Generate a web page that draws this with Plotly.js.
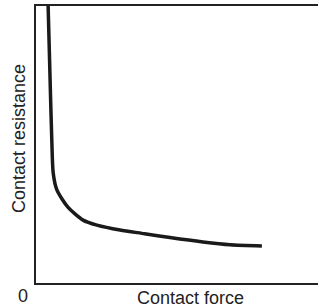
<!DOCTYPE html>
<html>
<head>
<meta charset="utf-8">
<script src="https://cdn.plot.ly/plotly-3.0.1.min.js"></script>
<style>html,body{margin:0;padding:0;background:#fff;}#chart{width:319px;height:308px;}</style>
</head>
<body>
<div id="chart"></div>
<script>
// Contact force (arbitrary units) and contact resistance (arbitrary units)
var contactForce = [0.43, 0.50, 0.56, 0.61, 0.74, 1.13, 1.67, 2.16, 2.98, 3.85, 4.75, 5.92, 6.88, 8.01];
var contactResistance = [10.0, 7.33, 5.16, 3.97, 3.36, 2.74, 2.27, 2.09, 1.91, 1.78, 1.64, 1.48, 1.38, 1.34];
var xTitle = "Contact force";
var yTitle = "Contact resistance";
var originLabel = "0";

var trace = {
  x: contactForce,
  y: contactResistance,
  mode: "lines",
  line: {color: "#1a1a1a", width: 3.5, shape: "spline", smoothing: 0.7},
  hoverinfo: "skip"
};

var fontFam = "Liberation Sans, Arial, sans-serif";
var txtColor = "#222";
var layout = {
  width: 319, height: 308,
  margin: {l: 36, r: 1, t: 6, b: 25},
  paper_bgcolor: "#fff", plot_bgcolor: "#fff",
  showlegend: false,
  xaxis: {
    range: [0, 10], showgrid: false, zeroline: false, showticklabels: false, ticks: "",
    showline: true, linecolor: "#222", linewidth: 2, mirror: true
  },
  yaxis: {
    range: [0, 10], showgrid: false, zeroline: false, showticklabels: false, ticks: "",
    showline: true, linecolor: "#222", linewidth: 2
  },
  annotations: [
    {xref: "paper", yref: "paper", x: 0, y: 0, text: originLabel, showarrow: false,
     xanchor: "center", yanchor: "middle", xshift: -13, yshift: -13,
     font: {family: fontFam, size: 18, color: txtColor}},
    {xref: "paper", yref: "paper", x: 0, y: 0, text: xTitle, showarrow: false,
     xanchor: "center", yanchor: "middle", xshift: 154, yshift: -15,
     font: {family: fontFam, size: 18, color: txtColor}},
    {xref: "paper", yref: "paper", x: 0, y: 0, text: yTitle, showarrow: false, textangle: -90,
     xanchor: "center", yanchor: "middle", xshift: -17, yshift: 144,
     font: {family: fontFam, size: 18, color: txtColor}}
  ]
};

Plotly.newPlot("chart", [trace], layout, {staticPlot: true, displayModeBar: false});
</script>
</body>
</html>
